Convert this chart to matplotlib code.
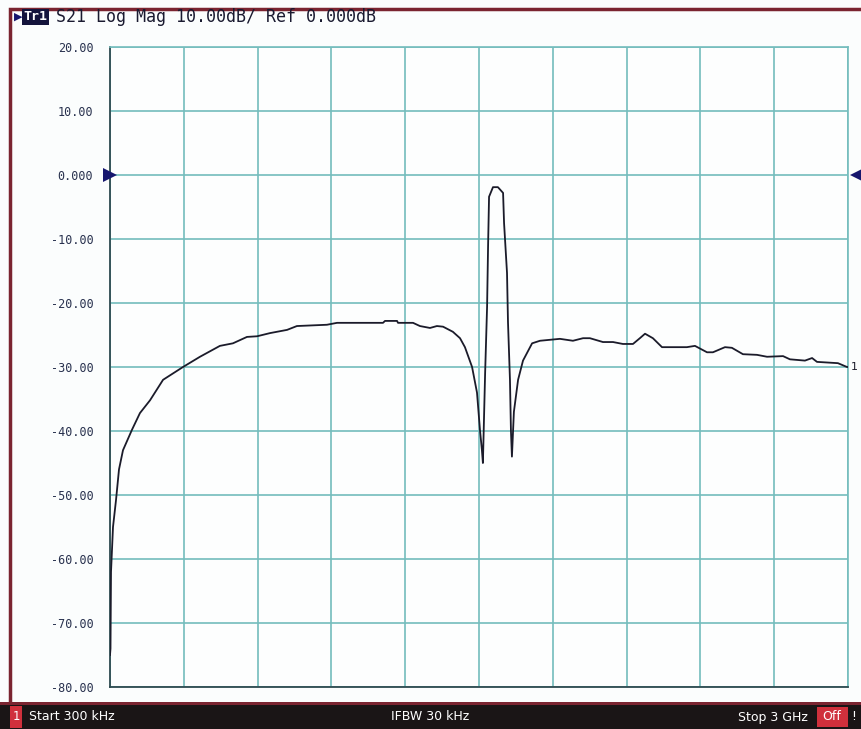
import matplotlib
matplotlib.use("Agg")
import matplotlib.pyplot as plt
from matplotlib.patches import Rectangle

# S21 trace, frequency in MHz, magnitude in dB
freq_mhz = [0.3, 2.3, 4.4, 12.5, 24.7, 36.9, 53.1, 89.7, 122, 163, 216, 297, 366,
            447, 500, 557, 598, 651, 720, 760, 882, 923, 1110, 1118, 1167, 1171,
            1232, 1260, 1301, 1329, 1354, 1394, 1423, 1443, 1472, 1492, 1504, 1512,
            1516, 1525, 1533, 1537, 1541, 1557, 1577, 1598, 1602, 1614, 1618, 1626,
            1630, 1634, 1642, 1659, 1679, 1716, 1748, 1829, 1882, 1923, 1951, 2004,
            2045, 2085, 2126, 2154, 2175, 2207, 2244, 2345, 2378, 2427, 2451, 2500,
            2528, 2573, 2630, 2671, 2736, 2764, 2825, 2854, 2874, 2959, 2996, 3000]
s21_db = [-75, -74, -62, -55, -50.8, -46, -43, -39.8, -37.2, -35.2, -32, -30, -28.4,
          -26.7, -26.3, -25.3, -25.2, -24.7, -24.2, -23.6, -23.4, -23.1, -23.1, -22.8,
          -22.8, -23.1, -23.1, -23.6, -23.9, -23.6, -23.7, -24.5, -25.5, -26.9, -30,
          -34, -39.8, -43, -45, -31, -20.6, -11.2, -3.4, -1.9, -1.9, -2.8, -7.5, -15.3,
          -23, -32, -40, -44, -37, -32, -29, -26.3, -25.9, -25.6, -25.9, -25.5, -25.5,
          -26.1, -26.1, -26.4, -26.4, -25.5, -24.8, -25.5, -26.9, -26.9, -26.7, -27.7,
          -27.7, -26.9, -27.0, -28.0, -28.1, -28.4, -28.3, -28.8, -29.0, -28.6, -29.2,
          -29.4, -30.0, -30.0]

y_ticks = [20, 10, 0, -10, -20, -30, -40, -50, -60, -70, -80]
y_labels = ["20.00", "10.00", "0.000", "-10.00", "-20.00", "-30.00", "-40.00",
            "-50.00", "-60.00", "-70.00", "-80.00"]
f_start, f_stop = 0.3, 3000.0

grid_col = "#74bdbd"
frame_col = "#7a2430"
navy = "#16166e"
mono = "DejaVu Sans Mono"

fig = plt.figure(figsize=(8.61, 7.29), dpi=100)
fig.patch.set_facecolor("#fbfdfd")

ax = fig.add_axes([110 / 861, 42 / 729, 738 / 861, 640 / 729])
ax.set_facecolor("#fdfefe")
ax.plot(freq_mhz, s21_db, color="#1b1b2a", lw=1.3, zorder=3)

ax.set_xlim(f_start, f_stop)
ax.set_ylim(-80, 20)
step = (f_stop - f_start) / 10
ax.set_xticks([f_start + i * step for i in range(11)])
ax.set_xticklabels([])
ax.set_yticks(y_ticks)
ax.set_yticklabels(y_labels, fontfamily=mono, fontsize=8.5, color="#28314e")
ax.tick_params(length=0, pad=12)
ax.grid(True, color=grid_col, lw=1.2)
for side in ["top", "right"]:
    ax.spines[side].set_color(grid_col)
    ax.spines[side].set_linewidth(1.2)
for side in ["left", "bottom"]:
    ax.spines[side].set_color("#2e4a50")
    ax.spines[side].set_linewidth(1.3)

# reference markers at 0 dB
ax.plot([0], [0], transform=ax.get_yaxis_transform(), marker=">", ms=10,
        color=navy, clip_on=False, zorder=5, markeredgewidth=0)
ax.plot([1.012], [0], transform=ax.get_yaxis_transform(), marker="<", ms=10,
        color=navy, clip_on=False, zorder=5, markeredgewidth=0)
ax.text(1.004, -30, "1", transform=ax.get_yaxis_transform(), fontsize=8,
        va="center", ha="left", color="#1b1b2a")

# outer frame
fig.add_artist(Rectangle((10 / 861, 0), 860 / 861, 1 - 9 / 729, transform=fig.transFigure,
                         fill=False, edgecolor=frame_col, lw=2.5))

# header
fig.text(14 / 861, 1 - 17 / 729, "\u25b6", fontsize=8, color=navy, va="center")
fig.add_artist(Rectangle((22 / 861, 1 - 25 / 729), 27 / 861, 16 / 729,
                         transform=fig.transFigure, facecolor="#14143c", edgecolor="none"))
fig.text(35.5 / 861, 1 - 17 / 729, "Tr1", fontfamily=mono, fontsize=9.5, color="white",
         va="center", ha="center", fontweight="bold")
fig.text(56 / 861, 1 - 17 / 729, "S21 Log Mag 10.00dB/ Ref 0.000dB", fontfamily=mono,
         fontsize=12, color="#1a1a30", va="center")

# status bar
fig.add_artist(Rectangle((0, 0), 1, 26 / 729, transform=fig.transFigure,
                         facecolor="#1a1516", edgecolor="none"))
fig.add_artist(Rectangle((0, 24 / 729), 1, 3 / 729, transform=fig.transFigure,
                         facecolor=frame_col, edgecolor="none"))
fig.add_artist(Rectangle((10 / 861, 1 / 729), 12 / 861, 22 / 729, transform=fig.transFigure,
                         facecolor="#d0303c", edgecolor="none"))
fig.text(16 / 861, 12 / 729, "1", color="white", fontsize=8.5, ha="center", va="center")
fig.text(29 / 861, 12 / 729, "Start 300 kHz", color="white", fontsize=9, va="center")
fig.text(430 / 861, 12 / 729, "IFBW 30 kHz", color="white", fontsize=9, va="center", ha="center")
fig.text(808 / 861, 12 / 729, "Stop 3 GHz", color="white", fontsize=9, va="center", ha="right")
fig.add_artist(Rectangle((817 / 861, 2 / 729), 31 / 861, 20 / 729, transform=fig.transFigure,
                         facecolor="#d0303c", edgecolor="none"))
fig.text(832 / 861, 12 / 729, "Off", color="white", fontsize=9, va="center", ha="center")
fig.text(854 / 861, 12 / 729, "!", color="white", fontsize=9, va="center", ha="center")

fig.savefig("out.png", dpi=100, facecolor=fig.get_facecolor())
